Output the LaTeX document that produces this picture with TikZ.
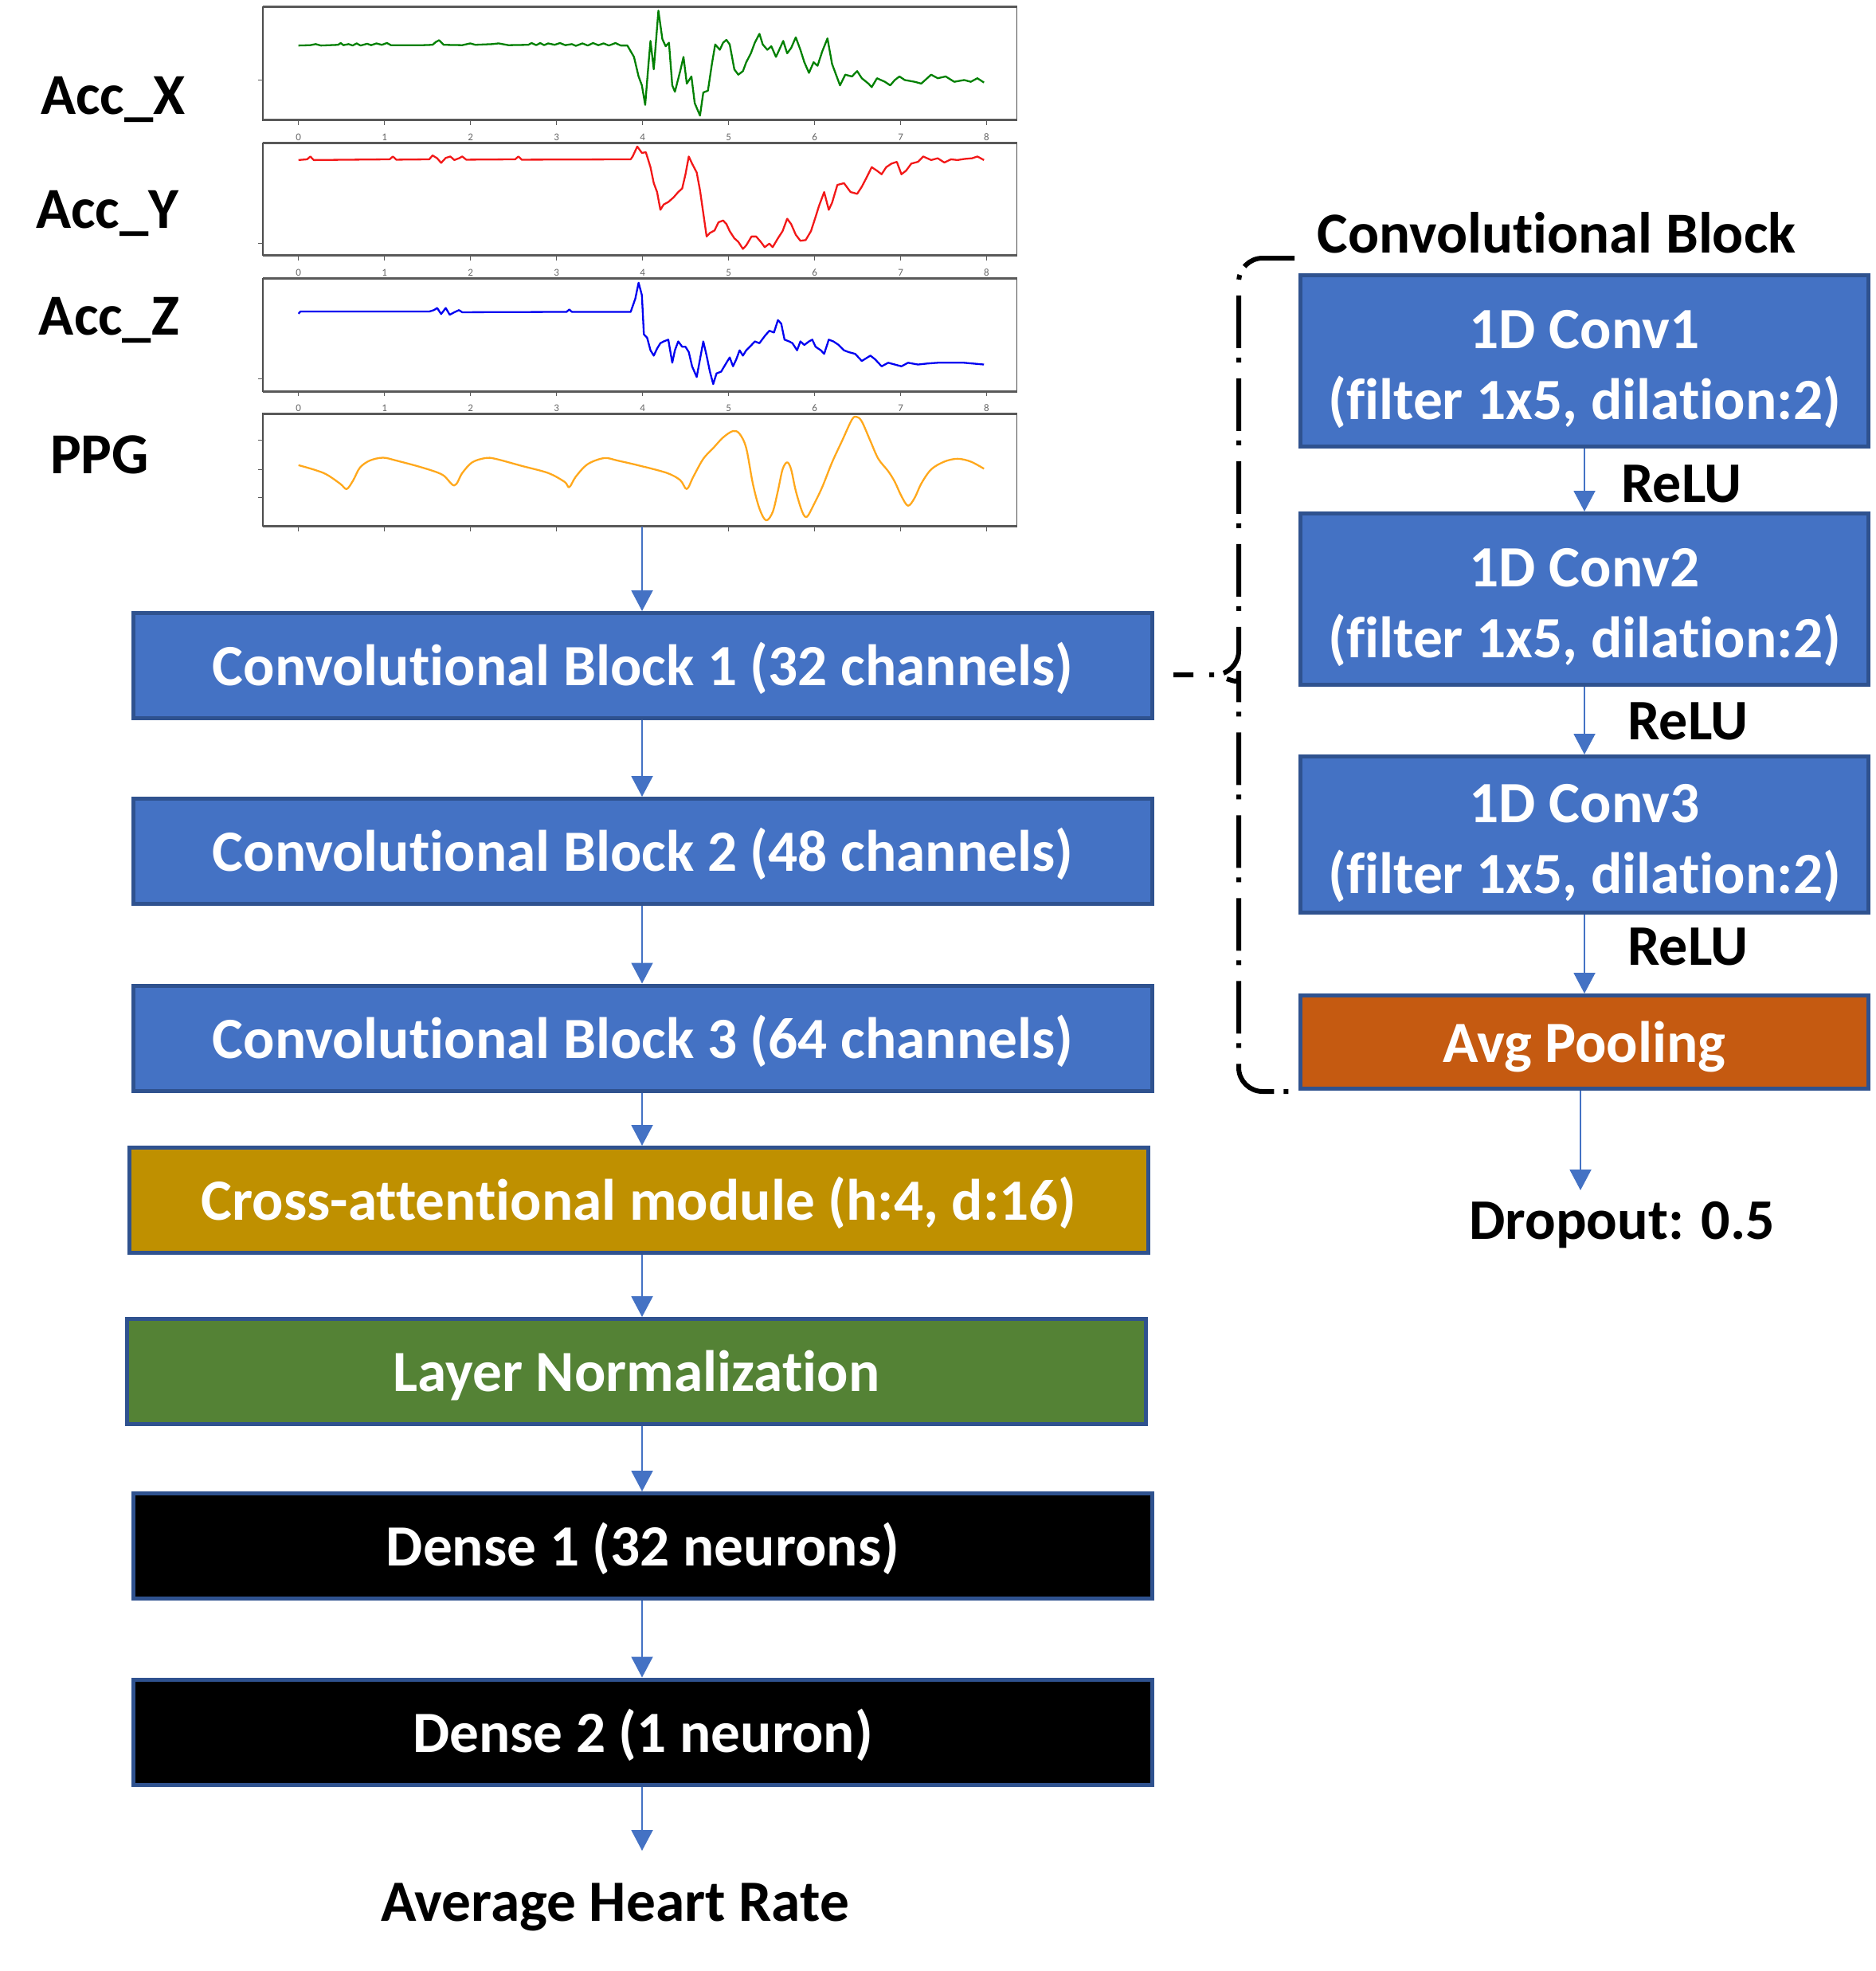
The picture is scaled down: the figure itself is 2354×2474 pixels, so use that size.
\documentclass[tikz,border=0pt]{standalone}
\usepackage{fontspec}
\setmainfont{Carlito}[Ligatures=NoCommon]
\usetikzlibrary{arrows.meta}
\definecolor{boxblue}{HTML}{4472C4}
\definecolor{edgeblue}{HTML}{2F528F}
\definecolor{goldbox}{HTML}{BF9000}
\definecolor{lngreen}{HTML}{548235}
\definecolor{poolorange}{HTML}{C55A11}
\definecolor{sigg}{HTML}{008000}
\definecolor{sigr}{HTML}{F21818}
\definecolor{sigb}{HTML}{0000F0}
\definecolor{sigo}{HTML}{FFA81C}
\newcommand{\firstline}{\rule{0pt}{70pt}}
\tikzset{
  blk/.style={draw=edgeblue, line width=5pt, text=white, inner sep=0pt},
  leftblk/.style={blk, minimum width=1279pt, minimum height=132pt, text height=59pt, text depth=9pt, font=\bfseries\fontsize{73.3}{88}\selectfont},
  rightblk/.style={blk, minimum width=713pt, align=center, font=\bfseries\fontsize{73.4}{89}\selectfont},
  arr/.style={draw=boxblue, line width=2pt, -{Triangle[width=27pt,length=26pt]}},
  lbl/.style={font=\bfseries\fontsize{72.8}{86}\selectfont, anchor=base, inner sep=0pt},
  smalllbl/.style={font=\bfseries\fontsize{72}{86}\selectfont, anchor=base, inner sep=0pt},
  bracket/.style={line width=6pt, dash pattern=on 66pt off 12pt on 6pt off 20pt, rounded corners=30pt},
  plotframe/.style={draw=black!70, line width=1.6pt},
  plotedge/.style={draw=black!65, line width=3pt},
  sig/.style={line width=2.3pt, line join=round},
  ticklbl/.style={font=\fontsize{13}{13}\selectfont, text=black!60, inner sep=0pt},
}
\begin{document}
\begin{tikzpicture}[x=1pt,y=-1pt]
\useasboundingbox (0,0) rectangle (2354,2474);

% ---------------- signal plots (in zoom space) ----------------
\begin{scope}[x={(0.829pt,0pt)}, y={(0pt,-0.4464pt)}]
  \foreach \t/\b in {20/338, 403/718, 783/1100, 1163/1480}{
    \draw[plotframe] (398,\t) rectangle (1540,\b);
    \draw[plotedge] (398,\t) -- (1540,\t);
    \draw[plotedge] (398,\b) -- (1540,\b);
    \foreach \k in {0,...,8}{
      \draw[draw=black!65, line width=1.2pt] (452+130.25*\k,\b) -- ++(0,14);
    }
  }
  \foreach \b in {338, 718, 1100}{
    \foreach \k in {0,...,8}{
      \node[ticklbl] at (452+130.25*\k,\b+48) {\k};
    }
  }
  \foreach \yy in {225, 685, 1065, 1237, 1320, 1400}{
    \draw[draw=black!65, line width=1pt] (398,\yy) -- ++(-7,0);
  }
  % Acc_X
  \draw[sig, sigg] (452,128)--(470,127)--(478,124)--(486,128)--(512,126)--(516,121)--(520,127)--(528,124)--(534,128)--(540,122)--(546,128)--(556,123)--(562,127)--(570,122)--(578,126)--(586,121)--(592,127)--(615,127)--(640,127)--(655,126)--(660,118)--(665,113)--(672,126)--(700,127)--(712,122)--(720,126)--(745,124)--(755,122)--(770,127)--(800,126)--(805,121)--(812,127)--(818,121)--(824,127)--(830,122)--(840,126)--(848,121)--(856,127)--(866,124)--(872,129)--(882,122)--(890,128)--(898,121)--(906,127)--(914,122)--(922,128)--(932,121)--(940,128)--(950,128)--(960,160)--(967,215)--(972,240)--(977,295)--(982,180)--(985,115)--(990,195)--(997,30)--(1003,110)--(1008,130)--(1013,120)--(1018,240)--(1022,258)--(1030,200)--(1035,160)--(1040,235)--(1047,215)--(1052,290)--(1060,325)--(1065,260)--(1072,255)--(1078,180)--(1083,125)--(1090,140)--(1095,120)--(1100,112)--(1105,125)--(1112,195)--(1118,210)--(1125,200)--(1130,175)--(1137,150)--(1143,120)--(1150,95)--(1155,125)--(1162,140)--(1168,130)--(1175,160)--(1180,140)--(1186,115)--(1192,150)--(1198,135)--(1205,105)--(1212,140)--(1218,175)--(1225,205)--(1232,175)--(1238,185)--(1245,145)--(1253,108)--(1260,180)--(1268,220)--(1272,240)--(1280,210)--(1290,215)--(1298,200)--(1305,220)--(1315,235)--(1320,245)--(1328,220)--(1340,230)--(1348,240)--(1355,225)--(1362,215)--(1370,225)--(1385,230)--(1395,235)--(1410,210)--(1420,220)--(1432,215)--(1445,230)--(1460,225)--(1470,230)--(1480,220)--(1490,232);
  % Acc_Y
  \draw[sig, sigr] (452,450)--(465,448)--(470,440)--(475,450)--(590,448)--(595,440)--(600,449)--(650,448)--(655,437)--(662,445)--(668,458)--(675,444)--(682,440)--(688,450)--(695,445)--(700,440)--(706,449)--(780,448)--(785,440)--(790,449)--(955,448)--(958,440)--(965,412)--(972,430)--(978,428)--(985,470)--(990,515)--(995,540)--(1000,590)--(1005,575)--(1012,568)--(1020,555)--(1027,540)--(1033,530)--(1038,490)--(1043,440)--(1048,460)--(1055,485)--(1060,535)--(1065,600)--(1070,665)--(1075,655)--(1082,648)--(1088,625)--(1095,620)--(1100,630)--(1105,650)--(1112,670)--(1118,680)--(1125,700)--(1130,690)--(1138,665)--(1145,665)--(1152,680)--(1158,695)--(1165,685)--(1170,695)--(1178,670)--(1185,650)--(1192,615)--(1198,630)--(1205,660)--(1212,677)--(1220,675)--(1228,650)--(1235,610)--(1240,580)--(1248,540)--(1255,590)--(1260,570)--(1268,520)--(1278,515)--(1288,540)--(1298,545)--(1305,525)--(1312,500)--(1320,470)--(1328,480)--(1335,490)--(1342,470)--(1350,460)--(1358,455)--(1365,490)--(1372,480)--(1380,460)--(1390,455)--(1398,440)--(1410,450)--(1420,445)--(1430,457)--(1440,448)--(1450,450)--(1460,447)--(1472,445)--(1480,440)--(1490,450);
  % Acc_Z
  \draw[sig, sigb] (452,882)--(455,876)--(650,876)--(657,872)--(662,866)--(668,883)--(675,866)--(681,885)--(688,878)--(695,872)--(700,878)--(858,877)--(862,870)--(866,877)--(955,877)--(962,840)--(967,795)--(972,830)--(975,940)--(980,950)--(985,985)--(990,1000)--(995,980)--(1000,965)--(1005,960)--(1012,955)--(1018,1020)--(1022,985)--(1027,960)--(1033,975)--(1038,975)--(1043,990)--(1048,1030)--(1055,1060)--(1060,1010)--(1065,960)--(1070,1000)--(1075,1045)--(1080,1080)--(1085,1050)--(1092,1045)--(1100,1020)--(1105,1005)--(1110,1030)--(1115,1010)--(1120,985)--(1125,1000)--(1130,985)--(1138,970)--(1143,960)--(1150,965)--(1158,945)--(1165,930)--(1172,935)--(1178,900)--(1183,910)--(1188,955)--(1195,960)--(1200,965)--(1207,985)--(1212,960)--(1218,970)--(1225,960)--(1230,955)--(1235,975)--(1243,985)--(1248,995)--(1255,955)--(1262,960)--(1270,970)--(1278,985)--(1285,990)--(1295,995)--(1305,1015)--(1318,1000)--(1325,1010)--(1335,1030)--(1345,1020)--(1355,1025)--(1365,1030)--(1375,1020)--(1390,1025)--(1405,1022)--(1420,1020)--(1440,1020)--(1460,1020)--(1490,1025);
  % PPG
  \draw[sig, sigo] plot[smooth, tension=0.55] coordinates {(452,1308)(490,1330)(515,1360)(525,1375)(535,1350)(545,1315)(560,1295)(580,1287)(600,1295)(640,1315)(670,1335)(688,1365)(700,1330)(715,1300)(735,1288)(750,1290)(790,1310)(830,1330)(855,1355)(862,1370)(872,1340)(890,1305)(915,1288)(935,1295)(970,1310)(1010,1330)(1030,1350)(1040,1375)(1050,1340)(1065,1290)(1080,1260)(1095,1230)(1110,1212)(1120,1220)(1130,1260)(1140,1360)(1150,1430)(1160,1463)(1170,1440)(1178,1380)(1185,1320)(1192,1300)(1198,1320)(1205,1380)(1215,1440)(1222,1453)(1232,1420)(1245,1370)(1260,1300)(1275,1240)(1290,1180)(1297,1172)(1305,1185)(1318,1240)(1330,1290)(1345,1325)(1355,1355)(1365,1395)(1375,1422)(1385,1400)(1395,1360)(1410,1320)(1430,1298)(1450,1290)(1470,1298)(1490,1318)};
\end{scope}

% signal labels
\node[lbl] (lx) at (142,143) {Acc\_X};
\node[lbl] (ly) at (135,286) {Acc\_Y};
\node[lbl] (lz) at (137,420) {Acc\_Z};
\node[lbl] (lp) at (125,594) {PPG};

% ---------------- left column ----------------
\coordinate (ax) at (806,0);
\coordinate (ppgb) at (806,661);
\node[leftblk, fill=boxblue] (cb1) at (807,835.5) {Convolutional Block 1 (32 channels)};
\node[leftblk, fill=boxblue] (cb2) at (807,1068.5) {Convolutional Block 2 (48 channels)};
\node[leftblk, fill=boxblue] (cb3) at (807,1303) {Convolutional Block 3 (64 channels)};
\node[leftblk, fill=goldbox] (cam) at (802,1506.5) {Cross-attentional module (h:4, d:16)};
\node[leftblk, fill=lngreen] (ln) at (799,1721.5) {Layer Normalization};
\node[leftblk, fill=black] (d1) at (807,1940.5) {Dense 1 (32 neurons)};
\node[leftblk, fill=black] (d2) at (807,2174) {Dense 2 (1 neuron)};
\coordinate (ahrin) at (806,2323);
\node[lbl, font=\bfseries\fontsize{73.4}{88}\selectfont] (ahr) at (772,2411) {Average Heart Rate};

\draw[arr] (ppgb) -- (cb1.north -| ax);
\draw[arr] (cb1.south -| ax) -- (cb2.north -| ax);
\draw[arr] (cb2.south -| ax) -- (cb3.north -| ax);
\draw[arr] (cb3.south -| ax) -- (cam.north -| ax);
\draw[arr] (cam.south -| ax) -- (ln.north -| ax);
\draw[arr] (ln.south -| ax) -- (d1.north -| ax);
\draw[arr] (d1.south -| ax) -- (d2.north -| ax);
\draw[arr] (d2.south -| ax) -- (ahrin);

% ---------------- right column ----------------
\node[lbl] (cbt) at (1954,317) {Convolutional Block};
\node[rightblk, fill=boxblue, minimum height=215pt] (c1) at (1989,453) {\firstline 1D Conv1\\(filter 1x5, dilation:2)};
\node[rightblk, fill=boxblue, minimum height=215pt] (c2) at (1989,752) {\firstline 1D Conv2\\(filter 1x5, dilation:2)};
\node[rightblk, fill=boxblue, minimum height=196pt] (c3) at (1989,1047.5) {\firstline 1D Conv3\\(filter 1x5, dilation:2)};
\node[rightblk, fill=poolorange, minimum height=117pt, text height=58pt, text depth=8pt] (avg) at (1989,1308) {Avg Pooling};
\node[smalllbl] (r1) at (2111,630) {ReLU};
\node[smalllbl] (r2) at (2119,928) {ReLU};
\node[smalllbl] (r3) at (2119,1211) {ReLU};
\coordinate (dx) at (1984,0);
\coordinate (dropin) at (1984,1494);
\node[smalllbl] (drop) at (2036,1555) {Dropout: 0.5};

\draw[arr] (c1.south) -- (c2.north);
\draw[arr] (c2.south) -- (c3.north);
\draw[arr] (c3.south) -- (avg.north);
\draw[arr] (avg.south -| dx) -- (dropin);

% ---------------- bracket ----------------
\coordinate (tip) at (1473,847);
\draw[bracket] (1625,324) -- (1555,324) -- (1555,847) -- (tip);
\draw[bracket] (1540,852) .. controls (1555,857) .. (1555,872) -- (1555,1370) -- (1637,1370);
\end{tikzpicture}
\end{document}
